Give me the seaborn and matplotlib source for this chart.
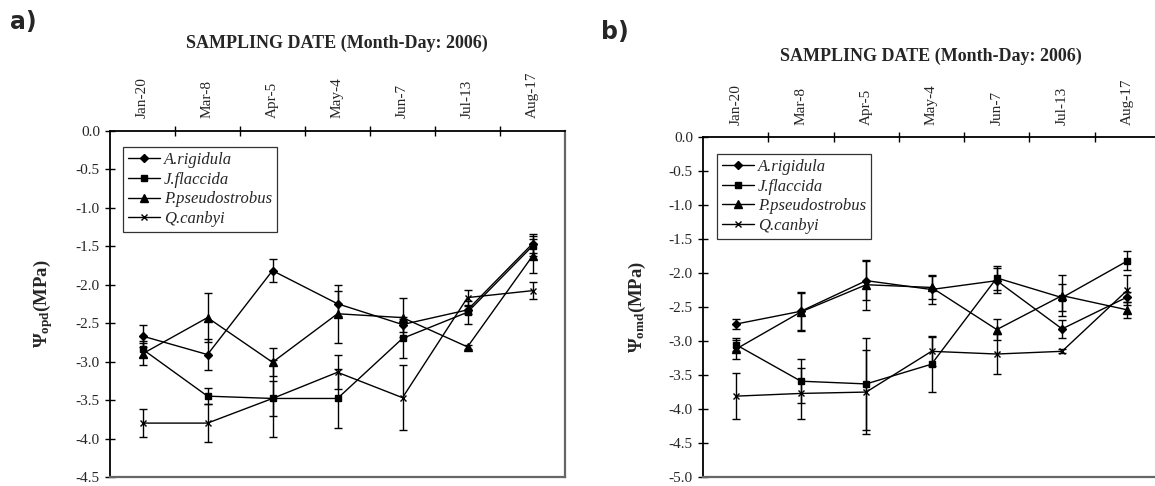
import numpy as np
import pandas as pd
import matplotlib
matplotlib.use("Agg")
import matplotlib.pyplot as plt
import seaborn as sns

# Data (water potential, MPa)
dates = ["Jan-20", "Mar-8", "Apr-5", "May-4", "Jun-7", "Jul-13", "Aug-17"]
species = ["A.rigidula", "J.flaccida", "P.pseudostrobus", "Q.canbyi"]

# panel a) pre-dawn
a_rigidula_a = [-2.67, -2.91, -1.82, -2.25, -2.52, -2.33, -1.47]
j_flaccida_a = [-2.84, -3.45, -3.48, -3.48, -2.70, -2.36, -1.50]
p_pseudo_a = [-2.90, -2.43, -3.01, -2.38, -2.43, -2.81, -1.63]
q_canbyi_a = [-3.80, -3.80, -3.48, -3.14, -3.47, -2.17, -2.08]
a_rigidula_a_err = [0.14, 0.20, 0.15, 0.16, 0.10, 0.05, 0.12]
j_flaccida_a_err = [0.10, 0.10, 0.23, 0.38, 0.25, 0.15, 0.13]
p_pseudo_a_err = [0.14, 0.32, 0.18, 0.38, 0.25, 0.03, 0.22]
q_canbyi_a_err = [0.18, 0.25, 0.50, 0.22, 0.42, 0.10, 0.11]

# panel b) midday
a_rigidula_b = [-2.75, -2.56, -2.11, -2.24, -2.11, -2.82, -2.35]
j_flaccida_b = [-3.05, -3.59, -3.63, -3.34, -2.07, -2.36, -1.82]
p_pseudo_b = [-3.12, -2.57, -2.17, -2.21, -2.83, -2.33, -2.54]
q_canbyi_b = [-3.81, -3.77, -3.75, -3.15, -3.19, -3.15, -2.25]
a_rigidula_b_err = [0.07, 0.28, 0.29, 0.21, 0.18, 0.13, 0.08]
j_flaccida_b_err = [0.10, 0.32, 0.68, 0.41, 0.18, 0.20, 0.14]
p_pseudo_b_err = [0.14, 0.28, 0.37, 0.17, 0.16, 0.30, 0.12]
q_canbyi_b_err = [0.34, 0.37, 0.62, 0.21, 0.30, 0.03, 0.22]

yticks_a = [0.0, -0.5, -1.0, -1.5, -2.0, -2.5, -3.0, -3.5, -4.0, -4.5]
yticks_b = [0.0, -0.5, -1.0, -1.5, -2.0, -2.5, -3.0, -3.5, -4.0, -4.5, -5.0]

markers = {"A.rigidula": "D", "J.flaccida": "s", "P.pseudostrobus": "^", "Q.canbyi": "x"}
msizes = {"A.rigidula": 4.0, "J.flaccida": 5.0, "P.pseudostrobus": 5.5, "Q.canbyi": 5.0}


def long_table(vals, errs):
    rows = []
    for sp, v, e in zip(species, vals, errs):
        for i, d in enumerate(dates):
            rows.append({"species": sp, "date": d, "pos": i, "psi": v[i], "err": e[i]})
    return pd.DataFrame(rows)


df_a = long_table([a_rigidula_a, j_flaccida_a, p_pseudo_a, q_canbyi_a],
                  [a_rigidula_a_err, j_flaccida_a_err, p_pseudo_a_err, q_canbyi_a_err])
df_b = long_table([a_rigidula_b, j_flaccida_b, p_pseudo_b, q_canbyi_b],
                  [a_rigidula_b_err, j_flaccida_b_err, p_pseudo_b_err, q_canbyi_b_err])

sns.set_theme(style="white")
plt.rcParams["font.family"] = ["Liberation Serif", "DejaVu Serif"]
plt.rcParams["axes.unicode_minus"] = False
plt.rcParams["mathtext.fontset"] = "custom"
plt.rcParams["mathtext.rm"] = "Liberation Serif"
plt.rcParams["mathtext.bf"] = "Liberation Serif:bold"
plt.rcParams["mathtext.it"] = "Liberation Serif:italic"

fig = plt.figure(figsize=(11.55, 4.86), dpi=100)
W, H = 1155.0, 486.0
ax_a = fig.add_axes([110 / W, 1 - 477 / H, 455 / W, 346.5 / H])
ax_b = fig.add_axes([703 / W, 1 - 477 / H, 457 / W, 339.7 / H])


def draw_panel(ax, df, yticks, ylab, leg_anchor):
    handles = []
    for sp in species:
        sub = df[df["species"] == sp]
        sns.lineplot(data=sub, x="pos", y="psi", color="black", marker=markers[sp],
                     markersize=msizes[sp], markeredgecolor="black",
                     markerfacecolor="black", markeredgewidth=1.0,
                     linewidth=1.0, legend=False, ax=ax)
        handles.append(ax.lines[-1])
        ax.errorbar(sub["pos"], sub["psi"], yerr=sub["err"], fmt="none",
                    ecolor="black", elinewidth=1.0, capsize=3.2, capthick=1.0)

    ax.set_xlim(-0.5, 6.5)
    ax.set_ylim(yticks[-1], 0)
    ax.xaxis.tick_top()
    ax.set_xticks(range(len(dates)))
    ax.set_xticklabels(dates, rotation=90, fontsize=11)
    ax.set_xticks(np.arange(0.5, 6.5, 1.0), minor=True)
    ax.tick_params(axis="x", which="major", length=0, pad=9)
    ax.tick_params(axis="x", which="minor", direction="inout", length=6.5,
                   width=1.0, color="black", top=True, bottom=False)
    ax.set_yticks(yticks)
    ax.set_yticklabels(["%.1f" % t for t in yticks], fontsize=11)
    ax.tick_params(axis="y", direction="inout", length=6.5, width=1.0,
                   color="black", left=True, pad=4)
    ax.set_xlabel("")
    ax.set_ylabel(ylab, fontsize=13.5, fontweight="bold")
    ax.yaxis.set_label_coords(-0.121, 0.5)

    for s in ["left", "top"]:
        ax.spines[s].set_color("black")
        ax.spines[s].set_linewidth(1.3)
    for s in ["right", "bottom"]:
        ax.spines[s].set_color("#666666")
        ax.spines[s].set_linewidth(1.6)

    leg = ax.legend(handles, species, loc="upper left", bbox_to_anchor=leg_anchor,
                    borderaxespad=0, frameon=True, fancybox=False,
                    prop={"style": "italic", "size": 12}, handlelength=1.9,
                    handletextpad=0.25, labelspacing=0.22, borderpad=0.3)
    leg.get_frame().set_edgecolor("black")
    leg.get_frame().set_linewidth(0.9)


draw_panel(ax_a, df_a, yticks_a, r"$\mathbf{\Psi_{opd}}$(MPa)", (0.0286, 0.952))
draw_panel(ax_b, df_b, yticks_b, r"$\mathbf{\Psi_{omd}}$(MPa)", (0.031, 0.951))

fig.text(337 / W, 1 - 43.5 / H, "SAMPLING DATE (Month-Day: 2006)", ha="center",
         va="center", fontsize=13, fontweight="bold")
fig.text(931 / W, 1 - 56 / H, "SAMPLING DATE (Month-Day: 2006)", ha="center",
         va="center", fontsize=13, fontweight="bold")
fig.text(23 / W, 1 - 22 / H, "a)", ha="center", va="center", fontsize=17,
         fontweight="bold", family="DejaVu Sans")
fig.text(615 / W, 1 - 32 / H, "b)", ha="center", va="center", fontsize=17,
         fontweight="bold", family="DejaVu Sans")

fig.savefig("out.png", dpi=100)
